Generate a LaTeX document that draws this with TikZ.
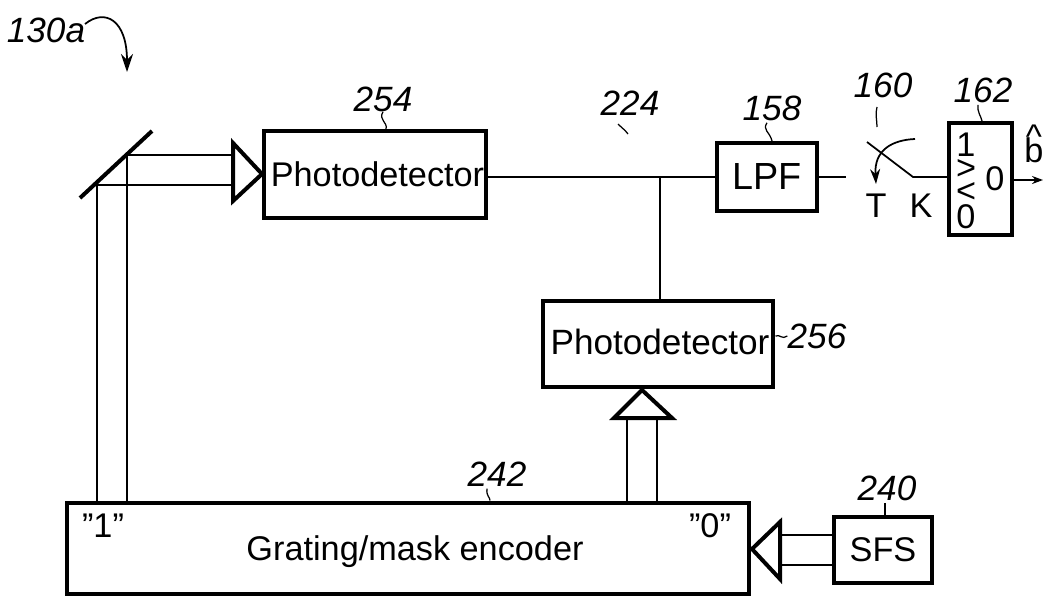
\documentclass[tikz,border=0pt]{standalone}
\usepackage{fontspec}
\setmainfont{Liberation Sans}
\usetikzlibrary{arrows.meta}
\tikzset{
  block/.style = {draw, line width = 0.08cm, inner sep = 0pt, font = \fontsize{19.5}{20}\selectfont},
  tag/.style = {inner sep = 0pt, font = \fontsize{20}{20}\selectfont\itshape},
  word/.style = {inner sep = 0pt, font = \fontsize{19.5}{20}\selectfont},
  beam/.style = {line width = 0.04cm},
  head/.style = {line width = 0.08cm, line join = miter},
  wire/.style = {line width = 0.035cm},
  lead/.style = {line width = 0.025cm}
}
\begin{document}
\begin{tikzpicture}[x = 0.02cm, y = -0.02cm]
\useasboundingbox (0, 0) rectangle (1043, 595);
\node[block, minimum width = 4.44cm, minimum height = 1.74cm] (pdtop) at (375, 174.5) {};
\node[word] (pdtoptext) at (377.5, 174) {Photodetector};
\node[block, minimum width = 4.62cm, minimum height = 1.74cm] (pdlow) at (658, 344) {};
\node[word, font = \fontsize{20}{20}\selectfont] (pdlowtext) at (660, 342) {Photodetector};
\node[block, minimum width = 2cm, minimum height = 1.36cm, font = \fontsize{21.5}{20}\selectfont] (lpf) at (767, 177) {LPF};
\node[block, minimum width = 1.26cm, minimum height = 2.24cm] (slicer) at (980.5, 179) {};
\node[block, minimum width = 13.64cm, minimum height = 1.82cm] (encoder) at (408, 548) {};
\node[block, minimum width = 1.96cm, minimum height = 1.32cm] (sfs) at (883, 550) {SFS};
\node[word] (enctext) at (415, 552) {Grating/mask encoder};
\node[word] (one) at (103, 526) {"1"};
\node[word] (zero) at (710, 526) {"0"};
\node[word] (t) at (876, 206) {T};
\node[word] (k) at (921, 206) {K};
\node[word, align = center, font = \fontsize{19.5}{13}\selectfont] (sstack) at (966, 181) {1\\>\\<\\0};
\node[word] (sout) at (995, 179) {0};
\node[word, anchor = south] (bhat) at (1034, 163) {\ooalign{b\cr\hidewidth\raisebox{0.42em}{\^{}}\hidewidth\cr}};
\node[tag] (t130) at (46, 30) {130a};
\node[tag] (t254) at (383, 99) {254};
\node[tag] (t224) at (630, 103) {224};
\node[tag] (t158) at (772, 108) {158};
\node[tag] (t160) at (883, 85) {160};
\node[tag] (t162) at (983, 90) {162};
\node[tag] (t256) at (817, 336) {256};
\node[tag] (t242) at (497, 474) {242};
\node[tag] (t240) at (887, 488) {240};
\coordinate (mirrorlow) at (80, 198);
\coordinate (mirrorup) at (152, 131);
\coordinate (hitlow) at (97, 184);
\coordinate (hitup) at (127, 155);
\coordinate (rightlow) at (233, 185);
\coordinate (rightup) at (233, 155);
\coordinate (upleft) at (627, 418);
\coordinate (upright) at (657, 418);
\coordinate (leftup) at (780, 535);
\coordinate (leftlow) at (780, 565);
\coordinate (join) at (660, 177);
\coordinate (lpfout) at (846, 177);
\coordinate (swtop) at (867, 142);
\coordinate (swknee) at (913, 177);
\coordinate (swin) at (949, 177);
\coordinate (outend) at (1043, 180);
\coordinate (turnfrom) at (915, 139);
\coordinate (turnto) at (876, 184);
\coordinate (mark) at (127, 72);
\coordinate (markfrom) at (85, 24);
\draw[line width = 0.08cm] (mirrorlow) -- (mirrorup);
\draw[beam] (hitlow) -- (hitlow |- encoder.north);
\draw[beam] (hitup) -- (hitup |- encoder.north);
\draw[beam] (hitlow |- rightlow) -- (rightlow);
\draw[beam] (hitup) -- (rightup);
\draw[head] (233, 143) -- (262, 174) -- (233, 201) -- cycle;
\draw[beam] (upleft) -- (upleft |- encoder.north);
\draw[beam] (upright) -- (upright |- encoder.north);
\draw[head] (614, 418) -- (642, 390) -- (672, 418) -- cycle;
\draw[beam] (leftup) -- (leftup -| sfs.west);
\draw[beam] (leftlow) -- (leftlow -| sfs.west);
\draw[head] (780, 522) -- (752, 549) -- (780, 579) -- cycle;
\draw[wire] (join -| pdtop.east) -- (lpf.west);
\draw[wire] (join) -- (join |- pdlow.north);
\draw[wire] (lpf.east) -- (lpfout);
\draw[wire] (swtop) -- (swknee) -- (swin);
\draw[wire, -{Stealth[length = 0.3cm, width = 0.2cm]}] (turnfrom) .. controls (892, 140) and (874, 150) .. (turnto);
\draw[wire, -{Stealth[length = 0.22cm, width = 0.16cm]}] (slicer.east |- outend) -- (outend);
\draw[wire, -{Stealth[length = 0.36cm, width = 0.24cm]}] (markfrom) .. controls (105, 8) and (127, 20) .. (mark);
\draw[lead] (t254.south) .. controls (378, 120) and (388, 122) .. (pdtop.north -| 386, 0);
\draw[lead] (618, 124) .. controls (622, 128) and (625, 130) .. (628, 134);
\draw[lead] (t158.south) ++(-5, 2) .. controls (762, 130) and (770, 132) .. (lpf.north -| 772, 0);
\draw[lead] (877, 107) .. controls (875, 114) and (877, 120) .. (877, 127);
\draw[lead] (t162.south) ++(-5, 2) .. controls (977, 112) and (981, 116) .. (slicer.north -| 982, 0);
\draw[lead] (pdlow.east |- t256) .. controls (780, 334) and (782, 340) .. (t256.west);
\draw[lead] (t242.south) ++(-10, 2) .. controls (486, 496) and (490, 497) .. (encoder.north -| 490, 0);
\draw[lead] (t240.south) ++(-2, 2) -- (sfs.north -| 885, 0);
\end{tikzpicture}
\end{document}
